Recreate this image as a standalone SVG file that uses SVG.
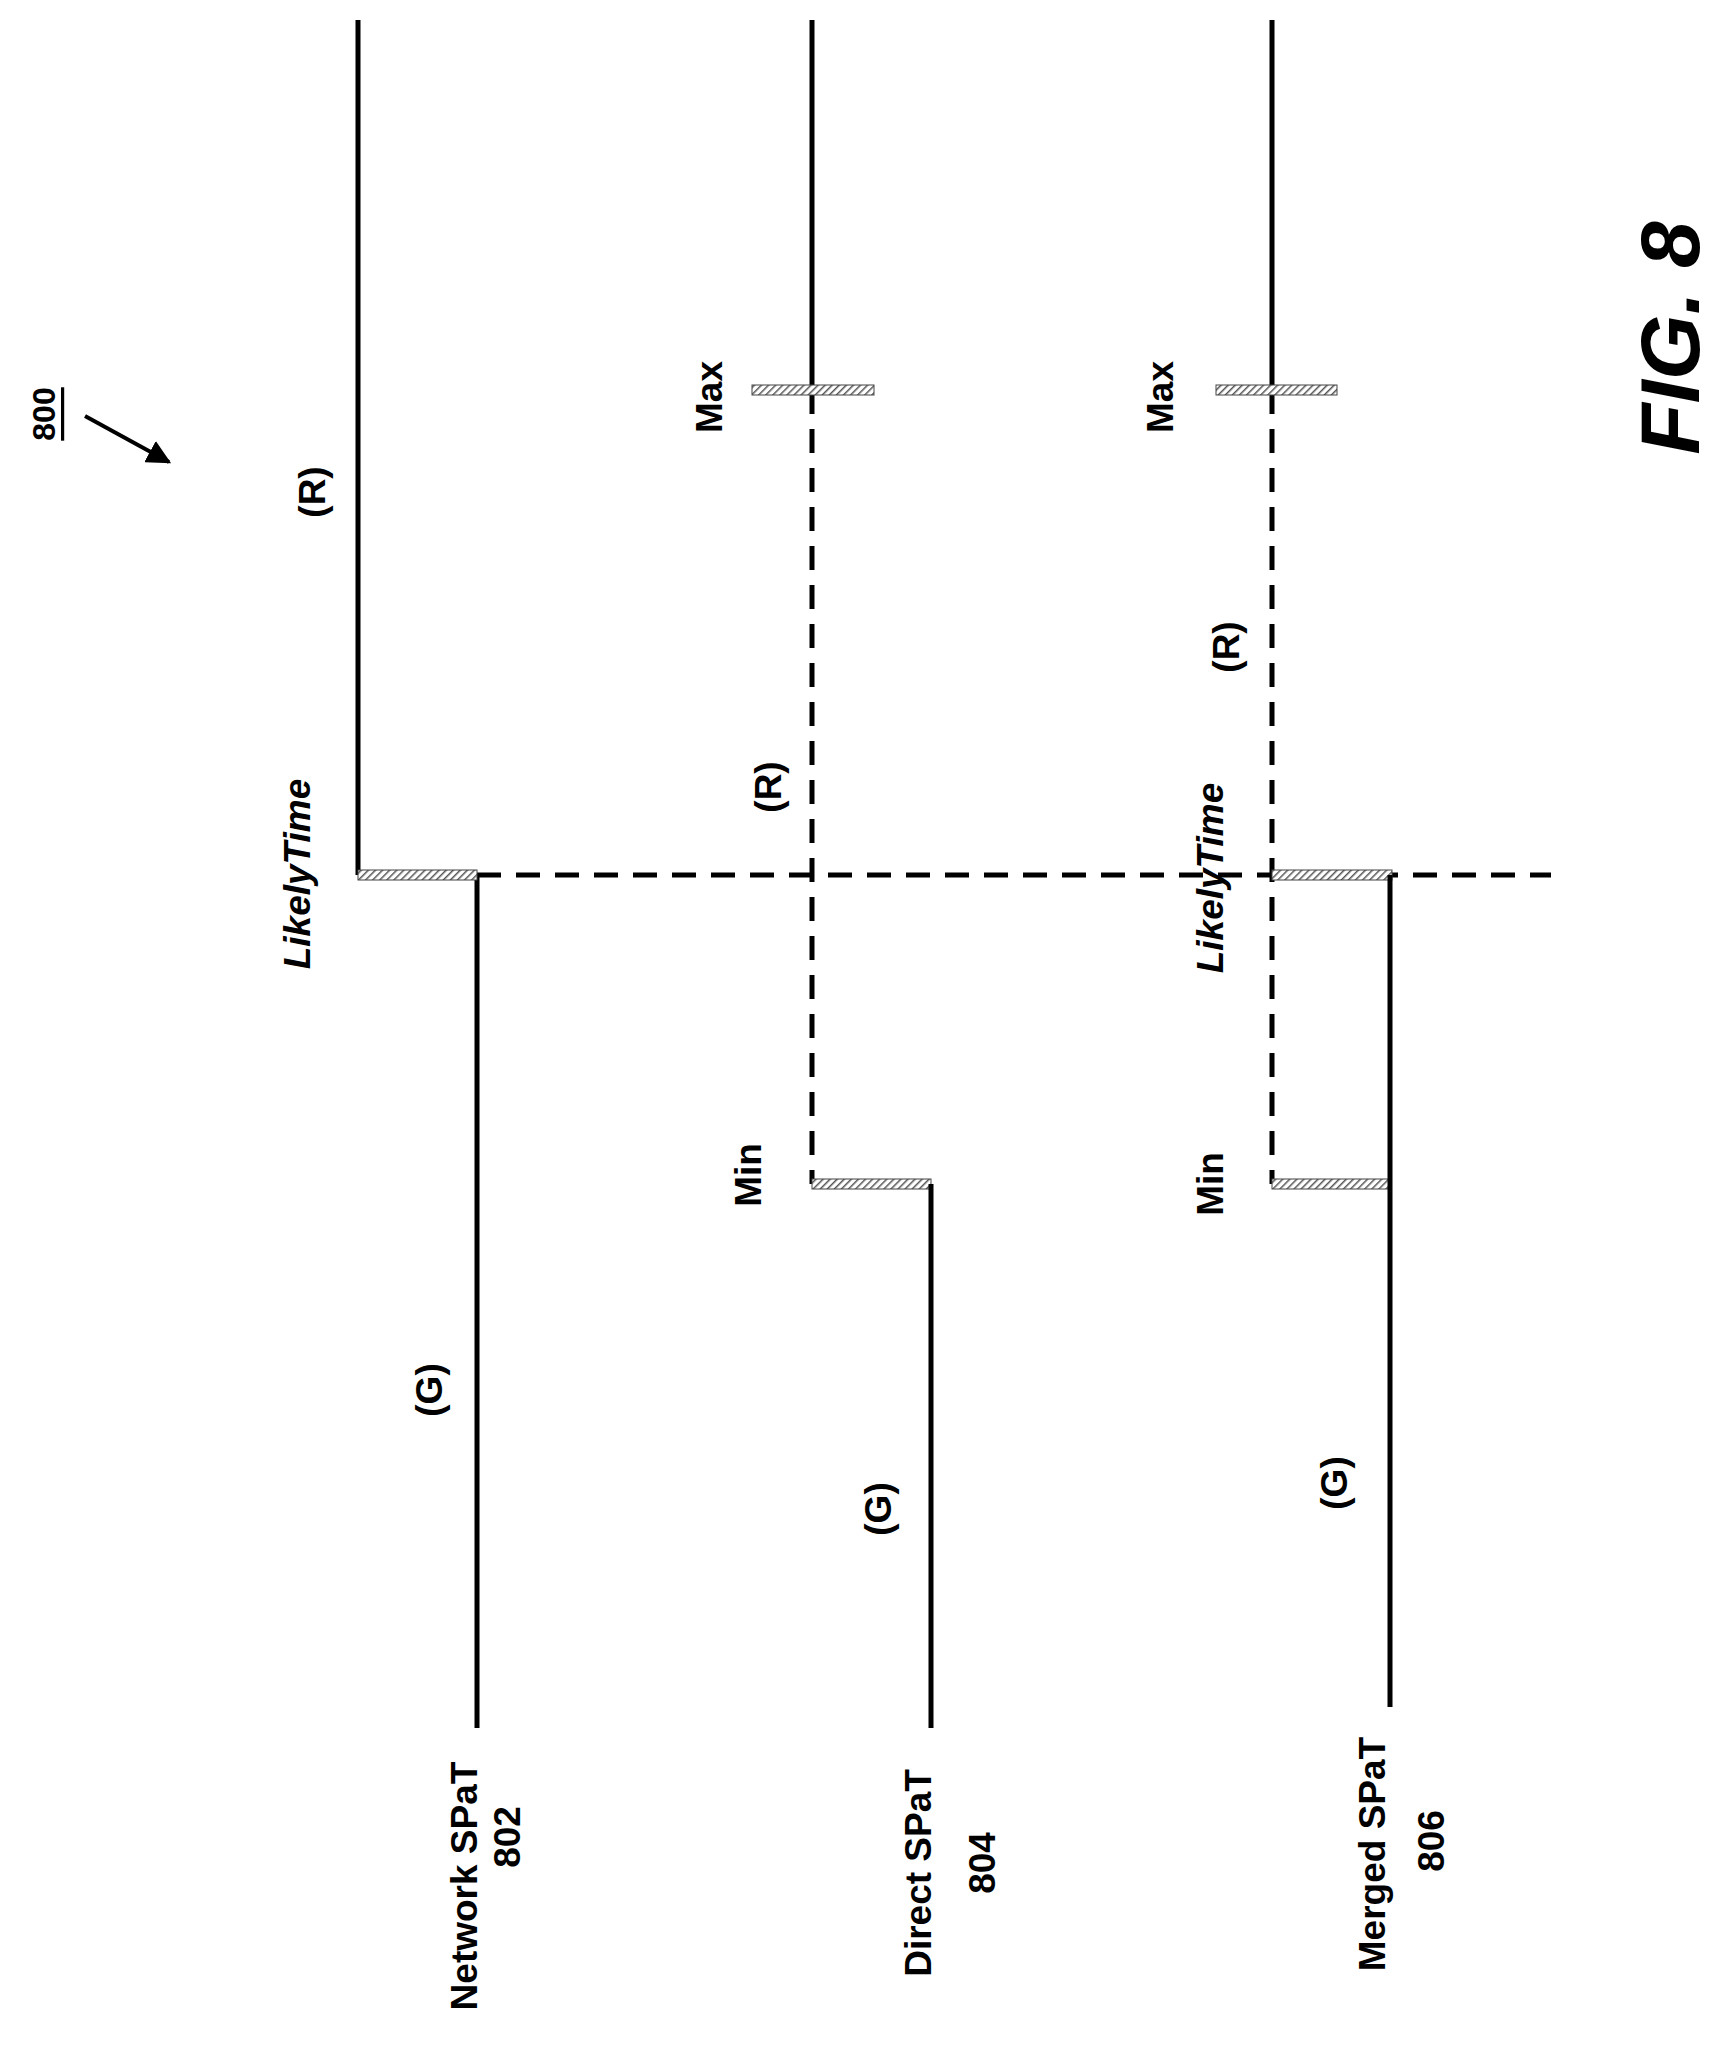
<svg xmlns="http://www.w3.org/2000/svg" width="1729" height="2048" viewBox="0 0 1729 2048">
<defs>
<pattern id="hatch" width="5" height="5" patternUnits="userSpaceOnUse" patternTransform="rotate(45)">
<rect width="5" height="5" fill="#fff"/><line x1="0" y1="0" x2="0" y2="5" stroke="#555" stroke-width="3"/>
</pattern>
<marker id="ah" viewBox="0 0 10 10" refX="9" refY="5" markerWidth="6" markerHeight="6" orient="auto"><path d="M0,0 L10,5 L0,10 z" fill="#000"/></marker>
</defs>
<style>
.s{stroke:#000;stroke-width:5;fill:none}
.d{stroke:#000;stroke-width:5;fill:none;stroke-dasharray:24 15}
.h{fill:url(#hatch);stroke:#444;stroke-width:1}
.t{font-family:"Liberation Sans",Arial,sans-serif;font-weight:bold;font-size:37px;text-anchor:middle;dominant-baseline:central}
.i{font-style:italic}
</style>
<rect width="1729" height="2048" fill="#fff"/>
<g id="connectors">
<line class="d" x1="477" y1="875" x2="1551" y2="875"/>
<line class="d" x1="812" y1="390" x2="812" y2="1184"/>
<line class="d" x1="1272" y1="390" x2="1272" y2="1184"/>
<line x1="85" y1="416" x2="169" y2="462" stroke="#000" stroke-width="4" marker-end="url(#ah)"/>
</g>
<g id="network">
<line class="s" x1="358" y1="20" x2="358" y2="875"/>
<line class="s" x1="477" y1="875" x2="477" y2="1728"/>
<rect class="h" x="358" y="870" width="119" height="10"/>
<text class="t" transform="translate(464,1886) rotate(-90)">Network SPaT</text>
<text class="t" transform="translate(507,1837) rotate(-90)">802</text>
</g>
<g id="direct">
<line class="s" x1="812" y1="20" x2="812" y2="390"/>
<rect class="h" x="752" y="385" width="122" height="10"/>
<rect class="h" x="812" y="1179" width="119" height="10"/>
<line class="s" x1="931" y1="1184" x2="931" y2="1728"/>
<text class="t" transform="translate(918,1873) rotate(-90)">Direct SPaT</text>
<text class="t" transform="translate(982,1863) rotate(-90)">804</text>
</g>
<g id="merged">
<line class="s" x1="1272" y1="20" x2="1272" y2="390"/>
<rect class="h" x="1216" y="385" width="121" height="10"/>
<rect class="h" x="1272" y="870" width="120" height="10"/>
<rect class="h" x="1272" y="1179" width="118" height="10"/>
<line class="s" x1="1390" y1="875" x2="1390" y2="1707"/>
<text class="t" transform="translate(1372,1854) rotate(-90)">Merged SPaT</text>
<text class="t" transform="translate(1431,1841) rotate(-90)">806</text>
</g>
<g id="labels">
<text class="t i" transform="translate(297,874) rotate(-90)">LikelyTime</text>
<text class="t" transform="translate(312,492) rotate(-90)">(R)</text>
<text class="t" transform="translate(429,1390) rotate(-90)">(G)</text>
<text class="t" transform="translate(709,397) rotate(-90)">Max</text>
<text class="t" transform="translate(768,787) rotate(-90)">(R)</text>
<text class="t" transform="translate(748,1175) rotate(-90)">Min</text>
<text class="t" transform="translate(878,1509) rotate(-90)">(G)</text>
<text class="t" transform="translate(1160,397) rotate(-90)">Max</text>
<text class="t" transform="translate(1226,647) rotate(-90)">(R)</text>
<text class="t i" transform="translate(1210,878) rotate(-90)">LikelyTime</text>
<text class="t" transform="translate(1210,1184) rotate(-90)">Min</text>
<text class="t" transform="translate(1334,1483) rotate(-90)">(G)</text>
<text class="t" style="font-size:32px;text-decoration:underline" transform="translate(44,414) rotate(-90)">800</text>
<text class="t i" style="font-size:84px" transform="translate(1670,338) rotate(-90)">FIG. 8</text>
</g>
</svg>
